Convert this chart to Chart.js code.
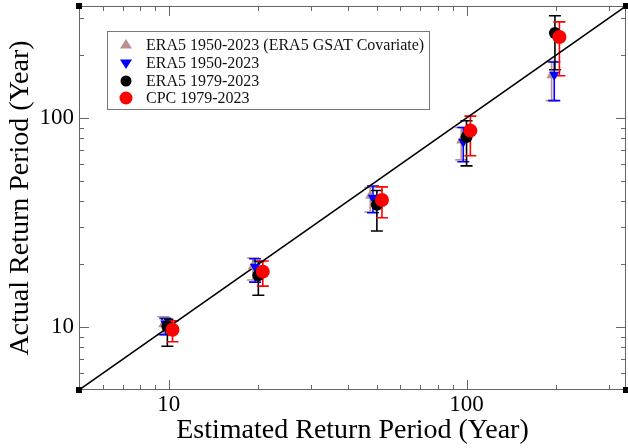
<!DOCTYPE html>
<html>
<head>
<meta charset="utf-8">
<script src="https://cdn.jsdelivr.net/npm/chart.js@4.4.1/dist/chart.umd.min.js"></script>
<style>
  html, body { margin: 0; padding: 0; background: #fff; }
  #wrap { width: 628px; height: 448px; }
</style>
</head>
<body>
<div id="wrap"><canvas id="rpChart" width="628" height="448"></canvas></div>
<script>
// series names (legend order)
const seriesNames = ['ERA5 1950-2023 (ERA5 GSAT Covariate)', 'ERA5 1950-2023', 'ERA5 1979-2023', 'CPC 1979-2023'];

// ERA5 1950-2023 with GSAT covariate
const gsatX = [9.6, 19.2, 47.5, 96, 193];
const gsatY = [10.3, 19.6, 42.5, 78, 160];
const gsatLo = [9.2, 16.8, 35.5, 63, 121];
const gsatHi = [11.2, 21.4, 46.5, 90, 186];

// ERA5 1950-2023
const era50X = [9.75, 19.5, 48.5, 97.5, 197];
const era50Y = [10.4, 19.4, 41.5, 77, 161];
const era50Lo = [9.2, 16.4, 35.2, 61.7, 121];
const era50Hi = [11.0, 21.2, 47.3, 90, 185];

// ERA5 1979-2023
const era79X = [9.9, 20, 50, 100, 198];
const era79Y = [10.1, 17.7, 38.4, 81, 255];
const era79Lo = [8.1, 14.2, 28.8, 59, 170];
const era79Hi = [10.9, 20.6, 45, 97, 308];

// CPC 1979-2023
const cpcX = [10.3, 20.7, 52, 103, 205];
const cpcY = [9.7, 18.4, 40.5, 87, 244];
const cpcLo = [8.5, 15.7, 33.3, 65.9, 159];
const cpcHi = [10.7, 20.7, 46.8, 102, 288];

// axis range and tick marks
const axisMin = 5;
const axisMax = 343;
const tickVals = [5, 6, 7, 8, 9, 10, 20, 30, 40, 50, 60, 70, 80, 90, 100, 200, 300];
const labelVals = [10, 100];

const serif = 'Liberation Serif, Times New Roman, serif';

function pts(xs, ys) {
    return xs.map((x, i) => ({x: x, y: ys[i]}));
}

// error bars drawn from the dataset's errLow / errHigh through the scales
const errorBars = {
    id: 'errorBars',
    beforeDatasetsDraw(chart) {
        const ctx = chart.ctx;
        const xs = chart.scales.x, ys = chart.scales.y;
        ctx.save();
        chart.data.datasets.forEach(ds => {
            if (!ds.errLow) return;
            ctx.strokeStyle = ds.borderColor;
            ctx.lineWidth = 1.6;
            ds.data.forEach((p, i) => {
                const px = xs.getPixelForValue(p.x);
                const lo = ys.getPixelForValue(ds.errLow[i]);
                const hi = ys.getPixelForValue(ds.errHigh[i]);
                ctx.beginPath();
                ctx.moveTo(px, lo); ctx.lineTo(px, hi);
                ctx.moveTo(px - 6, lo); ctx.lineTo(px + 6, lo);
                ctx.moveTo(px - 6, hi); ctx.lineTo(px + 6, hi);
                ctx.stroke();
            });
        });
        ctx.restore();
    }
};

// frame, inward ticks on all four sides, corner squares, legend box
const frame = {
    id: 'frame',
    afterDraw(chart) {
        const ctx = chart.ctx;
        const a = chart.chartArea;
        const xs = chart.scales.x, ys = chart.scales.y;
        ctx.save();
        ctx.strokeStyle = '#666';
        ctx.lineWidth = 1;
        ctx.strokeRect(a.left + 0.5, a.top + 0.5, a.right - a.left - 1, a.bottom - a.top - 1);
        ctx.beginPath();
        tickVals.forEach(v => {
            const len = labelVals.includes(v) ? 10 : 5;
            const px = Math.round(xs.getPixelForValue(v)) + 0.5;
            const py = Math.round(ys.getPixelForValue(v)) + 0.5;
            if (v > axisMin) {
                ctx.moveTo(px, a.bottom); ctx.lineTo(px, a.bottom - len);
                ctx.moveTo(px, a.top); ctx.lineTo(px, a.top + len);
                ctx.moveTo(a.left, py); ctx.lineTo(a.left + len, py);
                ctx.moveTo(a.right, py); ctx.lineTo(a.right - len, py);
            }
        });
        ctx.stroke();
        ctx.fillStyle = '#000';
        [[a.left, a.top], [a.right, a.top], [a.left, a.bottom], [a.right, a.bottom]].forEach(c => {
            ctx.fillRect(c[0] - 3, c[1] - 3, 6, 6);
        });

        // legend
        const bx = 107, by = 31, bw = 322, bh = 78;
        ctx.fillStyle = '#fff';
        ctx.fillRect(bx, by, bw, bh);
        ctx.strokeStyle = '#777';
        ctx.strokeRect(bx + 0.5, by + 0.5, bw, bh);
        const rowY = [45, 63, 81, 98];
        chart.data.datasets.forEach(ds => {
            if (ds.legendRow === undefined) return;
            const y = rowY[ds.legendRow];
            const mx = 126;
            ctx.fillStyle = ds.backgroundColor;
            const r = ds.legendRadius;
            ctx.beginPath();
            if (ds.pointStyle === 'circle') {
                ctx.arc(mx, y, r, 0, Math.PI * 2);
            } else if (ds.rotation === 180) {
                ctx.moveTo(mx - r, y - r * 0.6); ctx.lineTo(mx + r, y - r * 0.6); ctx.lineTo(mx, y + r);
            } else {
                ctx.moveTo(mx - r, y + r * 0.6); ctx.lineTo(mx + r, y + r * 0.6); ctx.lineTo(mx, y - r);
            }
            ctx.closePath();
            ctx.fill();
            ctx.fillStyle = '#111';
            ctx.font = '16px ' + serif;
            ctx.textBaseline = 'middle';
            ctx.textAlign = 'left';
            ctx.fillText(ds.label, 146, y + 1);
        });
        ctx.restore();
    }
};

const data1 = {
    datasets: [
        {
            label: seriesNames[0], data: pts(gsatX, gsatY), errLow: gsatLo, errHigh: gsatHi,
            backgroundColor: '#bc8f8f', borderColor: '#bc8f8f', pointStyle: 'triangle',
            pointRadius: 6, borderWidth: 0, order: 4, legendRow: 0, legendRadius: 6
        },
        {
            label: seriesNames[1], data: pts(era50X, era50Y), errLow: era50Lo, errHigh: era50Hi,
            backgroundColor: '#0000ff', borderColor: '#0000ff', pointStyle: 'triangle', rotation: 180,
            pointRadius: 6, borderWidth: 0, order: 3, legendRow: 1, legendRadius: 6
        },
        {
            label: seriesNames[2], data: pts(era79X, era79Y), errLow: era79Lo, errHigh: era79Hi,
            backgroundColor: '#000000', borderColor: '#000000', pointStyle: 'circle',
            pointRadius: 6, borderWidth: 0, order: 2, legendRow: 2, legendRadius: 5.5
        },
        {
            label: seriesNames[3], data: pts(cpcX, cpcY), errLow: cpcLo, errHigh: cpcHi,
            backgroundColor: '#ff0000', borderColor: '#ff0000', pointStyle: 'circle',
            pointRadius: 7, borderWidth: 0, order: 1, legendRow: 3, legendRadius: 6.5
        },
        {
            // 1:1 line
            type: 'line', label: '1:1', data: [{x: axisMin, y: axisMin}, {x: axisMax, y: axisMax}],
            borderColor: '#000', borderWidth: 1.5, pointRadius: 0, order: 5
        }
    ]
};

function logAxis(titleText, isX) {
    return {
        type: 'logarithmic',
        min: axisMin,
        max: axisMax,
        afterBuildTicks: s => { s.ticks = tickVals.map(v => ({value: v})); },
        afterFit: s => {
            if (isX) { s.height = 58; } else { s.width = 79; }
            s.paddingTop = 0; s.paddingBottom = 0; s.paddingLeft = 0; s.paddingRight = 0;
        },
        ticks: {
            autoSkip: false,
            maxRotation: 0,
            padding: isX ? 1 : 5,
            color: '#000',
            font: {family: serif, size: 23},
            callback: v => labelVals.includes(v) ? String(v) : ''
        },
        grid: {display: false, drawTicks: false},
        border: {display: false},
        title: {
            display: true,
            text: titleText,
            color: '#000',
            font: {family: serif, size: 28},
            padding: isX ? {top: 0, bottom: 1} : {top: 4, bottom: 0}
        }
    };
}

const config1 = {
    type: 'scatter',
    data: data1,
    options: {
        responsive: false,
        animation: false,
        layout: {autoPadding: false, padding: {top: 6, right: 2, left: 0, bottom: 0}},
        plugins: {legend: {display: false}, tooltip: {enabled: false}},
        scales: {
            x: logAxis('Estimated Return Period (Year)', true),
            y: logAxis('Actual Return Period (Year)', false)
        }
    },
    plugins: [errorBars, frame]
};

const myChart1 = new Chart(document.getElementById('rpChart').getContext('2d'), config1);
</script>
</body>
</html>
